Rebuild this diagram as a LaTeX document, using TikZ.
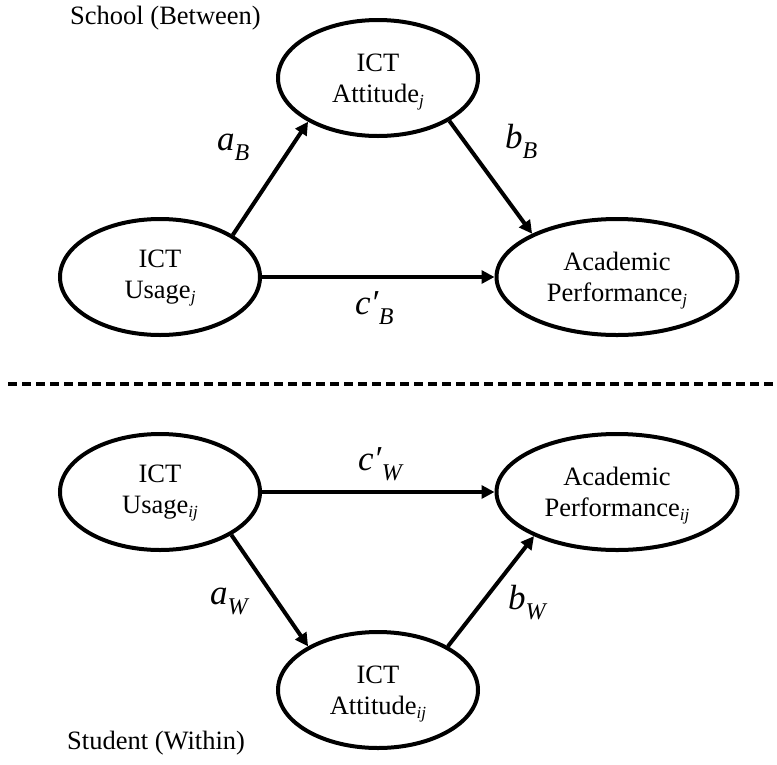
\documentclass[tikz,border=0pt]{standalone}
\usepackage{fontspec}
\setmainfont{Liberation Serif}
\usetikzlibrary{shapes.geometric,arrows.meta}
% path coefficient label: italic letter with lowered italic subscript
\newcommand{\coef}[2]{\textit{#1}\raisebox{-10pt}{\fontsize{24}{24}\selectfont\textit{#2}}}
\newcommand{\coefp}[2]{\textit{#1}\textit{′}\raisebox{-10pt}{\fontsize{24}{24}\selectfont\textit{#2}}}
% subscript index in node texts (kept out of the text box size)
\newcommand{\idx}[1]{\smash{\raisebox{-4pt}{\fontsize{17}{17}\selectfont\textit{#1}}}}
\begin{document}
\begin{tikzpicture}[x=1pt,y=-1pt,
  latent/.style={ellipse, draw, line width=4pt, inner sep=0pt,
    minimum width=200pt, minimum height=116pt, align=center,
    font=\fontsize{26.5}{31}\selectfont},
  widelatent/.style={latent, minimum width=241pt},
  path arrow/.style={line width=4pt, -{Triangle[length=13pt,width=13pt]}},
  coeflabel/.style={anchor=base west, inner sep=0pt, font=\fontsize{35}{35}\selectfont},
  levellabel/.style={anchor=base west, inner sep=0pt, font=\fontsize{26.5}{31}\selectfont}]
\useasboundingbox (0,0) rectangle (777,764);

% ---- between-school level ----
\node[levellabel] (school) at (70,24) {School (Between)};
\node[latent] (atj) at (378,78) {ICT\\Attitude\idx{j}};
\node[latent] (uj) at (160,277) {ICT\\Usage\idx{j}};
\node[widelatent] (acj) at (617,277) {Academic\\Performance\idx{j}};

\draw[path arrow] (uj.30) -- (atj.212);
\draw[path arrow] (atj.329) -- (acj.153);
\draw[path arrow] (uj.east) -- (acj.west);

\node[coeflabel] (aB) at (217,150) {\coef{a}{B}};
\node[coeflabel] (bB) at (505,148) {\coef{b}{B}};
\node[coeflabel] (cB) at (355,314) {\coefp{c}{B}};

% ---- level separator ----
\coordinate (sepL) at (8,384);
\coordinate (sepR) at (777,384);
\draw[line width=4.5pt, dash pattern=on 9pt off 5pt] (sepL) -- (sepR);

% ---- within-school level ----
\node[latent] (ui) at (160,492) {ICT\\Usage\idx{ij}};
\node[widelatent] (aci) at (617,492) {Academic\\Performance\idx{ij}};
\node[latent] (ati) at (378,690) {ICT\\Attitude\idx{ij}};
\node[levellabel] (student) at (67,749) {Student (Within)};

\draw[path arrow] (ui.east) -- (aci.west);
\draw[path arrow] (ui.-31) -- (ati.148);
\draw[path arrow] (ati.32) -- (aci.208);

\node[coeflabel] (cW) at (358,470) {\coefp{c}{W}};
\node[coeflabel] (aW) at (210,604) {\coef{a}{W}};
\node[coeflabel] (bW) at (508,609) {\coef{b}{W}};
\end{tikzpicture}
\end{document}
